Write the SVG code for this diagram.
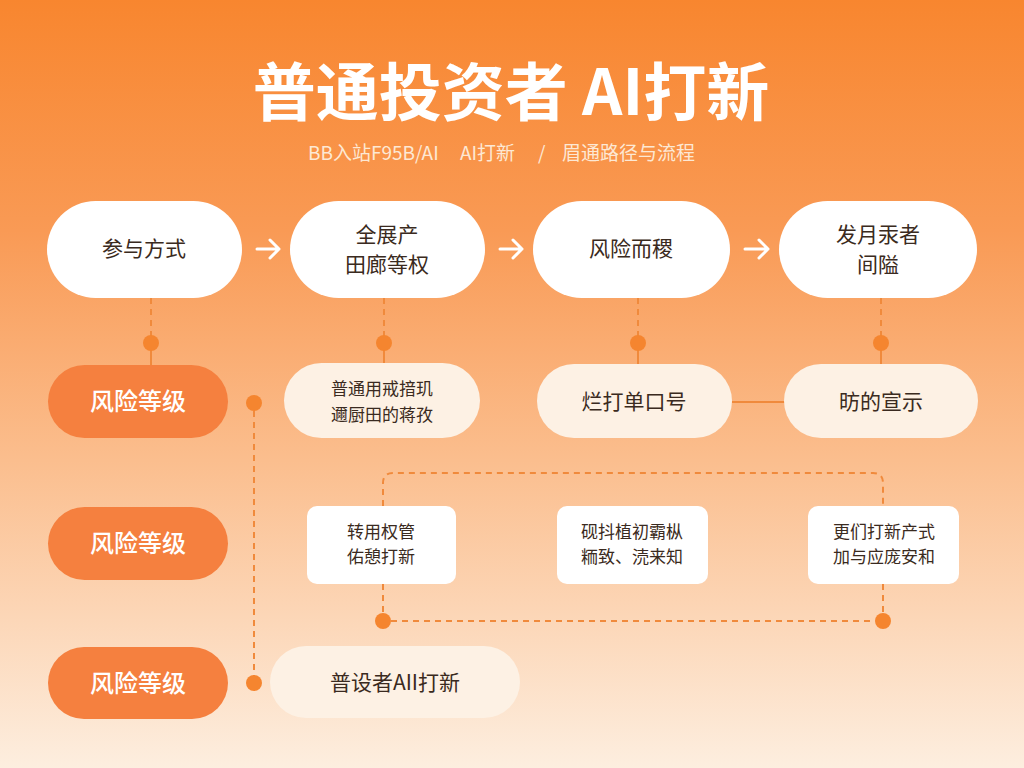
<svg xmlns="http://www.w3.org/2000/svg" width="1024" height="768" viewBox="0 0 1024 768">
<defs>
<linearGradient id="bg" x1="0" y1="0" x2="0" y2="1">
<stop offset="0" stop-color="#F8862F"/>
<stop offset="0.3" stop-color="#F99A55"/>
<stop offset="0.6" stop-color="#FBBE8E"/>
<stop offset="1" stop-color="#FDEEDF"/>
</linearGradient>
</defs>
<style>
text{font-family:"Noto Sans CJK SC","Noto Sans",sans-serif;text-anchor:middle}
.t{fill:#3A2A20;font-size:21px}
.s{fill:#3A2A20;font-size:17px}
.w{fill:#fff;font-size:24px;font-weight:500}
.sub{fill:#FDE8D4;font-size:19px;text-anchor:start}
.wp{fill:#fff}
.cp{fill:#FDF1E4}
.op{fill:#F5803F}
.dash{stroke:#F08A3C;stroke-width:2;stroke-dasharray:6 5;fill:none}
.sol{stroke:#F08A3C;stroke-width:2;fill:none}
.dot{fill:#F5852F}
.ar{stroke:#fff;stroke-width:3;fill:none;stroke-linecap:round;stroke-linejoin:round}
</style>
<rect width="1024" height="768" fill="url(#bg)"/>
<text x="511" y="115" style="font-size:63px;font-weight:700;fill:#fff">普通投资者 AI打新</text>
<text class="sub" y="160"><tspan x="308">BB入站F95B/AI</tspan><tspan x="460">AI打新</tspan><tspan x="538">/</tspan><tspan x="562">眉通路径与流程</tspan></text>

<g id="connectors">
<path class="ar" d="M257,249 H279 M270,240 L279,249 L270,258"/>
<path class="ar" d="M500,249 H522 M513,240 L522,249 L513,258"/>
<path class="ar" d="M745,249 H768 M759,240 L768,249 L759,258"/>
<path class="dash" d="M151,298 V336"/>
<path class="sol" d="M151,343 V365"/>
<path class="dash" d="M384,298 V336"/>
<path class="sol" d="M384,343 V364"/>
<path class="dash" d="M638,298 V336"/>
<path class="sol" d="M638,343 V364"/>
<path class="dash" d="M881,298 V336"/>
<path class="sol" d="M881,343 V364"/>
<path class="sol" d="M732,402 H794"/>
<path class="dash" d="M254,411 V676"/>
<path class="dash" d="M383,506 V483 Q383,473 393,473 H873 Q883,473 883,483 V506"/>
<path class="dash" d="M383,584 V614 M883,584 V614 M391,621 H875"/>
<circle class="dot" cx="151" cy="343" r="8"/>
<circle class="dot" cx="384" cy="343" r="8"/>
<circle class="dot" cx="638" cy="343" r="8"/>
<circle class="dot" cx="881" cy="343" r="8"/>
<circle class="dot" cx="254" cy="403" r="8"/>
<circle class="dot" cx="254" cy="683" r="8"/>
<circle class="dot" cx="383" cy="621" r="8"/>
<circle class="dot" cx="883" cy="621" r="8"/>
</g>

<g id="n1"><rect class="wp" x="47" y="201" width="195" height="97" rx="48.5"/><text class="t" x="144" y="256">参与方式</text></g>
<g id="n2"><rect class="wp" x="290" y="201" width="195" height="97" rx="48.5"/><text class="t" x="387" y="242">全展产</text><text class="t" x="387" y="272">田廊等权</text></g>
<g id="n3"><rect class="wp" x="533" y="201" width="197" height="97" rx="48.5"/><text class="t" x="631" y="256">风险而稷</text></g>
<g id="n4"><rect class="wp" x="779" y="201" width="198" height="97" rx="48.5"/><text class="t" x="878" y="242">发月汞者</text><text class="t" x="878" y="272">间隘</text></g>

<g id="r1"><rect class="op" x="48" y="365" width="180" height="73" rx="36.5"/><text class="w" x="138" y="410">风险等级</text></g>
<g id="m1"><rect class="cp" x="284" y="363" width="196" height="75" rx="37.5"/><text class="s" x="382" y="395">普通用戒揞玑</text><text class="s" x="382" y="421">邇厨田的蒋孜</text></g>
<g id="m2"><rect class="cp" x="537" y="364" width="195" height="74" rx="37"/><text class="t" x="634" y="409">烂打单口号</text></g>
<g id="m3"><rect class="cp" x="784" y="364" width="194" height="74" rx="37"/><text class="t" x="881" y="409">昉的宣示</text></g>

<g id="r2"><rect class="op" x="48" y="507" width="180" height="73" rx="36.5"/><text class="w" x="138" y="552">风险等级</text></g>
<g id="b1"><rect class="wp" x="307" y="506" width="149" height="78" rx="10"/><text class="s" x="381" y="538">转用权管</text><text class="s" x="381" y="563">佑憩打新</text></g>
<g id="b2"><rect class="wp" x="557" y="506" width="151" height="78" rx="10"/><text class="s" x="632" y="538">砚抖植初霸枞</text><text class="s" x="632" y="563">粫致、涜来知</text></g>
<g id="b3"><rect class="wp" x="808" y="506" width="151" height="78" rx="10"/><text class="s" x="884" y="538">更们打新产式</text><text class="s" x="884" y="563">加与应庞安和</text></g>

<g id="r3"><rect class="op" x="48" y="647" width="180" height="72" rx="36"/><text class="w" x="138" y="692">风险等级</text></g>
<g id="f1"><rect class="cp" x="270" y="646" width="250" height="72" rx="36"/><text class="t" x="395" y="690">普设者AII打新</text></g>
</svg>
